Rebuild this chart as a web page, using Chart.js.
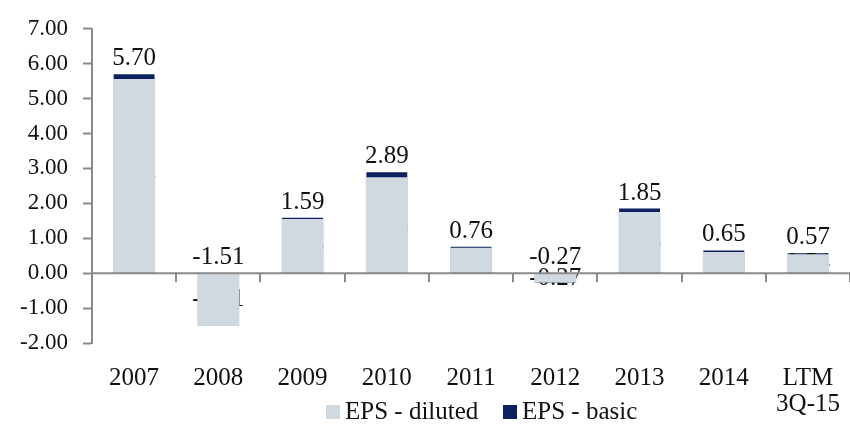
<!DOCTYPE html>
<html lang="en">
<head>
<meta charset="UTF-8">
<title>EPS</title>
<script src="https://cdn.jsdelivr.net/npm/chart.js@4.4.1/dist/chart.umd.min.js"></script>
<style>
    html, body { margin: 0; padding: 0; background: #fff; overflow: hidden; }
    .wrap { position: relative; width: 850px; height: 427px; overflow: hidden; }
    #epsChart { position: absolute; left: 0; top: 0; }
    .legend {
        position: absolute; left: 326px; top: 397px;
        font-family: "Liberation Serif", serif; font-size: 25px; color: #111;
    }
    .legend .box { position: absolute; top: 8px; width: 14px; height: 14px; }
    .legend .txt { position: absolute; top: 0; white-space: nowrap; }
</style>
</head>
<body>
<div class="wrap">
    <canvas id="epsChart" width="862" height="427"></canvas>
    <div class="legend">
        <span class="box" style="left:0; background:#D0D8E0"></span>
        <span class="txt" style="left:19px">EPS - diluted</span>
        <span class="box" style="left:177px; background:#0B2161"></span>
        <span class="txt" style="left:196px">EPS - basic</span>
    </div>
</div>

<script>
    // data
    const categories = ['2007', '2008', '2009', '2010', '2011', '2012', '2013', '2014', ['LTM', '3Q-15']];
    const epsDiluted = [5.56, -1.51, 1.55, 2.75, 0.73, -0.27, 1.75, 0.61, 0.54];
    const epsBasic = [5.70, -1.51, 1.59, 2.89, 0.76, -0.27, 1.85, 0.65, 0.57];
    const yTicks = [-2, -1, 0, 1, 2, 3, 4, 5, 6, 7];

    const FONT = '"Liberation Serif", serif';
    const AXIS = '#8a8a8a';

    // diluted labels sit under the diluted bars (drawn just before them)
    const labelsPlugin = {
        id: 'labels',
        beforeDatasetDraw(chart, args) {
            if (args.index !== 0) return;
            const ctx = chart.ctx;
            const meta = chart.getDatasetMeta(0);
            ctx.save();
            ctx.font = '25px ' + FONT;
            ctx.fillStyle = '#111';
            ctx.textAlign = 'center';
            ctx.textBaseline = 'middle';
            meta.data.forEach((bar, i) => {
                const mid = (bar.y + bar.base) / 2;
                ctx.fillText(epsDiluted[i].toFixed(2), bar.x, mid);
            });
            ctx.restore();
        },
        afterDatasetsDraw(chart) {
            const ctx = chart.ctx;
            const y = chart.scales.y;
            const x = chart.scales.x;
            const zero = y.getPixelForValue(0);
            ctx.save();
            // zero line + category tick marks
            ctx.strokeStyle = AXIS;
            ctx.lineWidth = 2;
            ctx.beginPath();
            ctx.moveTo(chart.chartArea.left, zero);
            ctx.lineTo(chart.chartArea.right, zero);
            const step = x.getPixelForValue(1) - x.getPixelForValue(0);
            for (let i = 0; i < categories.length; i++) {
                const px = Math.round(x.getPixelForValue(i) + step / 2);
                ctx.moveTo(px, zero);
                ctx.lineTo(px, zero + 9);
            }
            ctx.stroke();

            // basic labels
            const meta = chart.getDatasetMeta(1);
            ctx.font = '25px ' + FONT;
            ctx.fillStyle = '#111';
            ctx.textAlign = 'center';
            ctx.textBaseline = 'alphabetic';
            meta.data.forEach((bar, i) => {
                const top = Math.min(bar.y, zero);
                ctx.fillText(epsBasic[i].toFixed(2), bar.x, top - 9);
            });
            ctx.restore();
        }
    };

    new Chart(document.getElementById('epsChart'), {
        type: 'bar',
        data: {
            labels: categories,
            datasets: [
                {
                    label: 'EPS - diluted',
                    data: epsDiluted,
                    backgroundColor: '#D0D8E0',
                    barPercentage: 1,
                    order: 1
                },
                {
                    label: 'EPS - basic',
                    data: epsBasic,
                    backgroundColor: '#0B2161',
                    barPercentage: 0.97,
                    order: 2
                }
            ]
        },
        options: {
            responsive: false,
            animation: false,
            grouped: false,
            categoryPercentage: 0.5,
            layout: { padding: { top: 25, left: 0, right: 0, bottom: 0 } },
            plugins: {
                legend: { display: false },
                tooltip: { enabled: false }
            },
            scales: {
                x: {
                    grid: { display: false, drawTicks: false },
                    border: { display: false },
                    ticks: {
                        color: '#111',
                        font: { family: FONT, size: 25, lineHeight: 1.05 },
                        padding: 22,
                        maxRotation: 0,
                        autoSkip: false
                    },
                    afterFit(scale) { scale.height = 84; }
                },
                y: {
                    min: -2,
                    max: 7,
                    afterBuildTicks(scale) {
                        scale.ticks = yTicks.map(v => ({ value: v }));
                    },
                    grid: {
                        drawOnChartArea: false,
                        tickLength: 9,
                        tickWidth: 2,
                        tickColor: AXIS
                    },
                    border: { color: AXIS, width: 2 },
                    ticks: {
                        color: '#111',
                        font: { family: FONT, size: 23 },
                        padding: 15,
                        callback: v => v.toFixed(2)
                    },
                    afterFit(scale) { scale.width = 92; }
                }
            }
        },
        plugins: [labelsPlugin]
    });
</script>
</body>
</html>
